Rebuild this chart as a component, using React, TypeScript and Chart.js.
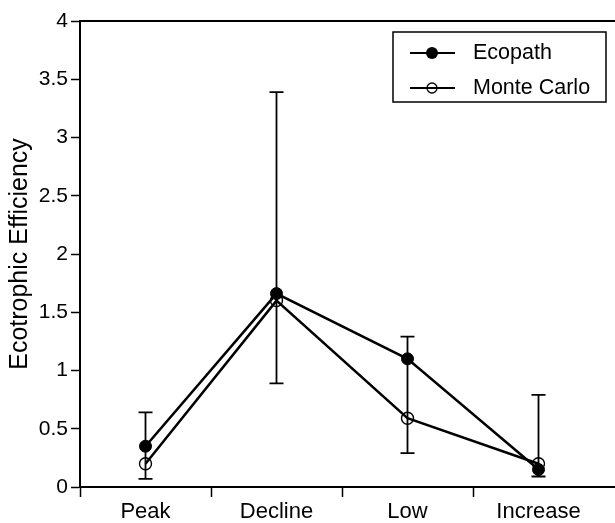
import React, { useEffect, useRef } from "react";
import { Chart, registerables } from "chart.js";

Chart.register(...registerables);

const categories = ["Peak", "Decline", "Low", "Increase"];
const ecopath = [0.35, 1.66, 1.1, 0.15];
const monteCarlo = [0.2, 1.6, 0.59, 0.2];
const errLow = [0.07, 0.89, 0.29, 0.09];
const errHigh = [0.64, 3.39, 1.29, 0.79];
const yMin = 0;
const yMax = 4;
const yStep = 0.5;
const seriesNames = ["Ecopath", "Monte Carlo"];
const yTitle = "Ecotrophic Efficiency";

const FONT = "'Liberation Sans', Arial, Helvetica, sans-serif";

const errorBarPlugin = {
  id: "errorBars",
  beforeDatasetsDraw(chart: any) {
    const { ctx, scales } = chart;
    const xs = scales.x;
    const ys = scales.y;
    ctx.save();
    ctx.strokeStyle = "#000";
    ctx.lineWidth = 1.8;
    for (let i = 0; i < categories.length; i++) {
      const x = xs.getPixelForValue(i);
      const yt = ys.getPixelForValue(errHigh[i]);
      const yb = ys.getPixelForValue(errLow[i]);
      ctx.beginPath();
      ctx.moveTo(x, yt);
      ctx.lineTo(x, yb);
      ctx.moveTo(x - 7, yt);
      ctx.lineTo(x + 7, yt);
      ctx.moveTo(x - 7, yb);
      ctx.lineTo(x + 7, yb);
      ctx.stroke();
    }
    ctx.restore();
  },
};

const framePlugin = {
  id: "frame",
  afterDraw(chart: any) {
    const { ctx, chartArea, width, scales } = chart;
    const xs = scales.x;
    ctx.save();
    ctx.strokeStyle = "#000";
    ctx.lineWidth = 2;
    ctx.beginPath();
    ctx.moveTo(chartArea.left - 1, chartArea.top);
    ctx.lineTo(width, chartArea.top);
    ctx.moveTo(chartArea.right - 1, chartArea.bottom);
    ctx.lineTo(width, chartArea.bottom);
    ctx.stroke();
    // category boundary ticks
    const step = xs.getPixelForValue(1) - xs.getPixelForValue(0);
    ctx.lineWidth = 1.5;
    ctx.beginPath();
    for (let i = 0; i < categories.length; i++) {
      const x = Math.round(xs.getPixelForValue(i) - step / 2) + 0.5;
      ctx.moveTo(x, chartArea.bottom);
      ctx.lineTo(x, chartArea.bottom + 10);
    }
    ctx.stroke();
    ctx.restore();
  },
};

const legendPlugin = {
  id: "customLegend",
  afterDraw(chart: any) {
    const { ctx, chartArea } = chart;
    const left = chartArea.right - 211;
    const top = chartArea.top + 11;
    const w = 213;
    const h = 70;
    ctx.save();
    ctx.fillStyle = "#fff";
    ctx.fillRect(left, top, w, h);
    ctx.strokeStyle = "#000";
    ctx.lineWidth = 1.5;
    ctx.strokeRect(left, top, w, h);
    const rows = [top + 21, top + 56];
    rows.forEach((y, i) => {
      ctx.lineWidth = 2;
      ctx.beginPath();
      ctx.moveTo(left + 17, y);
      ctx.lineTo(left + 62, y);
      ctx.stroke();
      ctx.beginPath();
      ctx.arc(left + 39, y, i === 0 ? 6 : 5, 0, Math.PI * 2);
      if (i === 0) {
        ctx.fillStyle = "#000";
        ctx.fill();
      } else {
        ctx.lineWidth = 1.3;
        ctx.stroke();
      }
      ctx.fillStyle = "#000";
      ctx.font = `21.5px ${FONT}`;
      ctx.textBaseline = "middle";
      ctx.textAlign = "left";
      ctx.fillText(seriesNames[i], left + 80, y);
    });
    ctx.restore();
  },
};

export default function App() {
  const ref = useRef<HTMLCanvasElement | null>(null);
  useEffect(() => {
    if (!ref.current) return;
    const chart = new Chart(ref.current, {
      type: "line",
      data: {
        labels: categories,
        datasets: [
          {
            label: seriesNames[0],
            data: ecopath,
            borderColor: "#000",
            borderWidth: 2.5,
            backgroundColor: "#000",
            pointBackgroundColor: "#000",
            pointBorderColor: "#000",
            pointRadius: 6,
            pointBorderWidth: 1,
            tension: 0,
          },
          {
            label: seriesNames[1],
            data: monteCarlo,
            borderColor: "#000",
            borderWidth: 2.5,
            backgroundColor: "rgba(0,0,0,0)",
            pointBackgroundColor: "rgba(0,0,0,0)",
            pointBorderColor: "#000",
            pointRadius: 6,
            pointBorderWidth: 1.4,
            tension: 0,
          },
        ],
      },
      options: {
        animation: false,
        responsive: false,
        events: [],
        layout: { padding: { top: 21, right: 11, left: 0, bottom: 0 } },
        plugins: {
          legend: { display: false },
          tooltip: { enabled: false },
        },
        scales: {
          x: {
            type: "category",
            offset: true,
            grid: {
              display: false,
            },
            border: { display: true, color: "#000", width: 2 },
            ticks: {
              color: "#000",
              padding: 4,
              maxRotation: 0,
              font: { family: FONT, size: 22 },
            },
            afterFit: (s: any) => {
              s.height = 36;
            },
          },
          y: {
            min: yMin,
            max: yMax,
            grid: {
              display: true,
              drawOnChartArea: false,
              drawTicks: true,
              tickLength: 9,
              tickWidth: 1.5,
              color: "#000",
            },
            border: { display: true, color: "#000", width: 2 },
            ticks: {
              stepSize: yStep,
              color: "#000",
              padding: 3,
              font: { family: FONT, size: 21 },
              callback: (v: any) => String(v),
            },
            title: {
              display: true,
              text: yTitle,
              color: "#000",
              font: { family: FONT, size: 25 },
              padding: { top: 5, bottom: 0 },
            },
            afterFit: (s: any) => {
              s.width = 80;
            },
          },
        },
      },
      plugins: [errorBarPlugin, framePlugin, legendPlugin],
    });
    return () => chart.destroy();
  }, []);
  return (
    <div
      style={{
        position: "fixed",
        left: 0,
        top: 0,
        width: 615,
        height: 523,
        overflow: "hidden",
        background: "#fff",
      }}
    >
      <canvas ref={ref} width={615} height={523} style={{ display: "block" }} />
    </div>
  );
}
